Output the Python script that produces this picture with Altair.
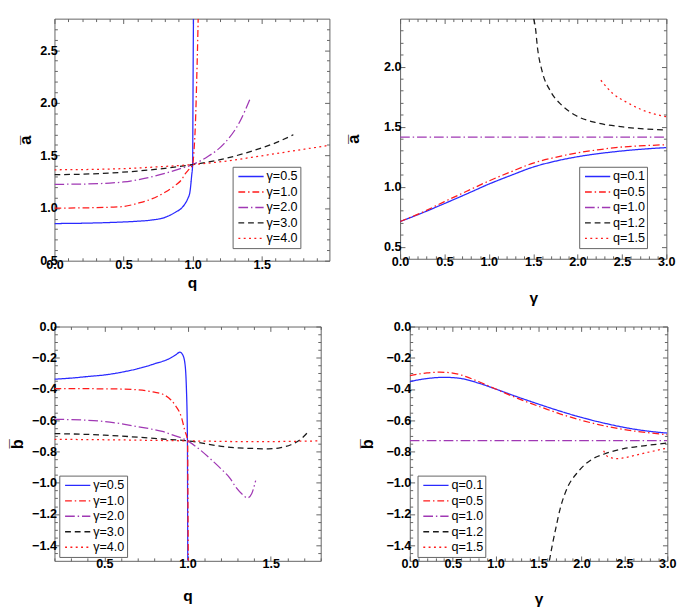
import altair as alt
import pandas as pd

# ---------------- Panel A: a-bar vs q ----------------
A_q_g05 = [0, 0.2, 0.4, 0.5, 0.6, 0.7, 0.8, 0.876, 0.92, 0.946, 0.965, 0.981, 0.993, 1.0, 1.002, 1.004, 1.006]
A_a_g05 = [0.853, 0.856, 0.863, 0.868, 0.875, 0.886, 0.912, 0.961, 1.0, 1.043, 1.09, 1.158, 1.31, 1.414, 1.9, 2.4, 2.8]
A_q_g1 = [0, 0.2, 0.4, 0.5, 0.6, 0.7, 0.8, 0.876, 0.92, 0.946, 0.975, 1.0, 1.01, 1.02, 1.025, 1.03, 1.035, 1.04]
A_a_g1 = [1.0, 1.002, 1.008, 1.015, 1.045, 1.085, 1.15, 1.218, 1.27, 1.325, 1.37, 1.414, 1.55, 1.8, 2.0, 2.25, 2.5, 2.8]
A_q_g2 = [0, 0.2, 0.4, 0.5, 0.643, 0.8, 0.9, 1.0, 1.11, 1.226, 1.343, 1.413]
A_a_g2 = [1.226, 1.228, 1.238, 1.248, 1.279, 1.33, 1.37, 1.414, 1.49, 1.61, 1.825, 2.03]
A_q_g3 = [0, 0.2, 0.4, 0.6, 0.8, 1.0, 1.2, 1.4, 1.6, 1.729]
A_a_g3 = [1.318, 1.322, 1.333, 1.352, 1.378, 1.414, 1.46, 1.53, 1.62, 1.697]
A_q_g4 = [0, 0.25, 0.5, 0.75, 1.0, 1.25, 1.5, 1.75, 1.99]
A_a_g4 = [1.364, 1.367, 1.375, 1.392, 1.414, 1.448, 1.497, 1.548, 1.597]

# ---------------- Panel B: a-bar vs gamma ----------------
B_g_q01 = [0, 0.25, 0.5, 0.75, 1.0, 1.25, 1.5, 1.75, 2.0, 2.25, 2.5, 2.75, 3.0]
B_a_q01 = [0.71, 0.782, 0.86, 0.94, 1.022, 1.095, 1.164, 1.213, 1.25, 1.277, 1.298, 1.314, 1.326]
B_g_q05 = [0, 0.25, 0.5, 0.75, 1.0, 1.25, 1.5, 1.75, 2.0, 2.25, 2.5, 2.75, 3.0]
B_a_q05 = [0.71, 0.787, 0.876, 0.962, 1.048, 1.125, 1.197, 1.245, 1.282, 1.31, 1.331, 1.342, 1.35]
B_g_q10 = [0, 3.0]
B_a_q10 = [1.4142, 1.4142]
B_g_q12 = [1.505, 1.527, 1.545, 1.6, 1.691, 1.82, 1.964, 2.218, 2.51, 2.75, 3.0]
B_a_q12 = [2.4, 2.312, 2.177, 1.963, 1.80, 1.68, 1.60, 1.532, 1.498, 1.482, 1.472]
B_g_q15 = [2.262, 2.4, 2.545, 2.727, 3.0]
B_a_q15 = [1.887, 1.774, 1.707, 1.64, 1.583]

# ---------------- Panel C: b-bar vs q ----------------
C_q_g05 = [0.2, 0.3, 0.4, 0.5, 0.6, 0.7, 0.8, 0.9, 0.93, 0.954, 0.97, 0.983, 0.993, 0.999, 1.0, 1.001]
C_b_g05 = [-0.337, -0.33, -0.32, -0.31, -0.293, -0.27, -0.239, -0.2, -0.18, -0.164, -0.18, -0.229, -0.4, -0.73, -1.1, -1.5]
C_q_g1 = [0.2, 0.4, 0.6, 0.7, 0.8, 0.848, 0.9, 0.925, 0.964, 0.983, 1.0, 1.002, 1.004]
C_b_g1 = [-0.397, -0.398, -0.4, -0.405, -0.42, -0.432, -0.47, -0.503, -0.584, -0.665, -0.732, -1.1, -1.5]
C_q_g2 = [0.2, 0.4, 0.5, 0.6, 0.7, 0.8, 0.848, 0.9, 1.0, 1.07, 1.138, 1.2, 1.254, 1.291, 1.33, 1.36, 1.385, 1.409]
C_b_g2 = [-0.594, -0.6, -0.608, -0.622, -0.641, -0.66, -0.671, -0.69, -0.732, -0.785, -0.848, -0.91, -0.97, -1.03, -1.075, -1.097, -1.07, -0.986]
C_q_g3 = [0.2, 0.5, 0.848, 1.0, 1.235, 1.4, 1.486, 1.56, 1.621, 1.679, 1.718]
C_b_g3 = [-0.685, -0.695, -0.72, -0.732, -0.771, -0.781, -0.783, -0.775, -0.757, -0.722, -0.682]
C_q_g4 = [0.2, 0.6, 1.0, 1.4, 1.8]
C_b_g4 = [-0.722, -0.726, -0.732, -0.737, -0.732]

# ---------------- Panel D: b-bar vs gamma ----------------
D_g_q01 = [0, 0.2, 0.4, 0.6, 0.8, 1.0, 1.2, 1.4, 1.6, 1.8, 2.0, 2.2, 2.5, 2.75, 3.0]
D_b_q01 = [-0.352, -0.333, -0.325, -0.333, -0.362, -0.4, -0.44, -0.478, -0.515, -0.55, -0.582, -0.61, -0.646, -0.668, -0.682]
D_g_q05 = [0, 0.2, 0.35, 0.5, 0.8, 1.0, 1.2, 1.4, 1.6, 1.8, 2.0, 2.2, 2.5, 2.75, 3.0]
D_b_q05 = [-0.315, -0.297, -0.292, -0.298, -0.352, -0.4, -0.447, -0.49, -0.53, -0.568, -0.6, -0.628, -0.66, -0.678, -0.692]
D_g_q10 = [0, 3.0]
D_b_q10 = [-0.73, -0.73]
D_g_q12 = [1.626, 1.66, 1.702, 1.75, 1.814, 1.965, 2.116, 2.266, 2.492, 2.75, 3.0]
D_b_q12 = [-1.5, -1.4, -1.289, -1.17, -1.06, -0.927, -0.852, -0.816, -0.782, -0.762, -0.746]
D_g_q15 = [2.258, 2.3, 2.36, 2.416, 2.5, 2.605, 2.793, 3.0]
D_b_q15 = [-0.795, -0.83, -0.842, -0.846, -0.84, -0.827, -0.803, -0.778]

gamma_labels = ["γ=0.5", "γ=1.0", "γ=2.0", "γ=3.0", "γ=4.0"]
q_labels = ["q=0.1", "q=0.5", "q=1.0", "q=1.2", "q=1.5"]

colors = ["#2a2aff", "#ff1a1a", "#a038b4", "#1a1a1a", "#ff1a1a"]
dashes = [[1, 0], [7, 3, 1.5, 3], [10, 3, 1.5, 3], [6, 4], [2, 3.5]]

FONT = "Liberation Sans"
FRAME = "#606060"


def make_df(xs, ys, labels):
    rows = []
    for lab, xv, yv in zip(labels, xs, ys):
        for a, b in zip(xv, yv):
            rows.append({"x": a, "y": b, "s": lab})
    return pd.DataFrame(rows)


def ticks(lo, hi, step):
    n = int(round((hi - lo) / step))
    return [round(lo + i * step, 4) for i in range(n + 1)]


def panel(df, labels, xdom, ydom, xvals, yvals, xmaj, ymaj, w, h,
          xtitle, ytitle, lx, ly, ytp, xtp, yext, ylp, xlp):
    xtest = f"abs(datum.value/{xmaj} - round(datum.value/{xmaj})) < 1e-6"
    ytest = f"abs(datum.value/{ymaj} - round(datum.value/{ymaj})) < 1e-6"
    common = dict(domain=False, grid=False, tickColor=FRAME, tickWidth=1,
                  labelFont=FONT, labelFontSize=13, labelFontWeight="bold",
                  labelColor="black", format=".1f", labelFlush=False,
                  labelOverlap=False, titleFont=FONT, titleColor="black",
                  titleFontWeight="bold")
    xax = alt.Axis(orient="bottom", values=xvals,
                   tickSize={"expr": f"({xtest}) ? -5 : -3"},
                   labelExpr=f"({xtest}) ? datum.label : ''",
                   labelPadding=xlp, title=xtitle, titleFontSize=16,
                   titlePadding=xtp, **common)
    yax = alt.Axis(orient="left", values=yvals,
                   tickSize={"expr": f"({ytest}) ? -5 : -3"},
                   labelExpr=f"({ytest}) ? datum.label : ''",
                   labelPadding=ylp, title=ytitle, titleFontSize=17,
                   titlePadding=ytp, titleAngle=270,
                   minExtent=yext, maxExtent=yext, **common)
    xax2 = alt.Axis(orient="top", values=xvals, labels=False, title=None,
                    tickSize={"expr": f"({xtest}) ? -5 : -3"},
                    domain=False, grid=False, tickColor=FRAME)
    yax2 = alt.Axis(orient="right", values=yvals, labels=False, title=None,
                    tickSize={"expr": f"({ytest}) ? -5 : -3"},
                    domain=False, grid=False, tickColor=FRAME)
    xs = alt.Scale(domain=xdom, nice=False, zero=False)
    ys = alt.Scale(domain=ydom, nice=False, zero=False)
    lines = alt.Chart(df).mark_line(clip=True, strokeWidth=1.3,
                                    interpolate="monotone").encode(
        x=alt.X("x:Q", scale=xs, axis=xax),
        y=alt.Y("y:Q", scale=ys, axis=yax),
        color=alt.Color("s:N", scale=alt.Scale(domain=labels, range=colors),
                        legend=alt.Legend(
                            orient="none", legendX=lx, legendY=ly, title=None,
                            symbolType="stroke", symbolSize=680,
                            symbolStrokeWidth=1.4, symbolOffset=3,
                            labelFont=FONT, labelFontSize=13,
                            labelColor="black",
                            labelExpr="datum.label + '\u00a0\u00a0\u00a0\u00a0\u00a0'",
                            strokeColor=FRAME, fillColor="white",
                            padding=2, clipHeight=16, rowPadding=0,
                            labelOffset=2)),
        strokeDash=alt.StrokeDash("s:N", scale=alt.Scale(domain=labels, range=dashes),
                                  legend=None),
        detail="s:N",
    )
    frame = alt.Chart(df).mark_line(opacity=0).encode(
        x=alt.X("x:Q", scale=xs, axis=xax2),
        y=alt.Y("y:Q", scale=ys, axis=yax2),
    )
    return alt.layer(lines, frame).resolve_axis(x="independent", y="independent").properties(
        width=w, height=h)


dfA = make_df([A_q_g05, A_q_g1, A_q_g2, A_q_g3, A_q_g4],
              [A_a_g05, A_a_g1, A_a_g2, A_a_g3, A_a_g4], gamma_labels)
dfB = make_df([B_g_q01, B_g_q05, B_g_q10, B_g_q12, B_g_q15],
              [B_a_q01, B_a_q05, B_a_q10, B_a_q12, B_a_q15], q_labels)
dfC = make_df([C_q_g05, C_q_g1, C_q_g2, C_q_g3, C_q_g4],
              [C_b_g05, C_b_g1, C_b_g2, C_b_g3, C_b_g4], gamma_labels)
dfD = make_df([D_g_q01, D_g_q05, D_g_q10, D_g_q12, D_g_q15],
              [D_b_q01, D_b_q05, D_b_q10, D_b_q12, D_b_q15], q_labels)

pA = panel(dfA, gamma_labels, [0, 1.99], [0.5, 2.8], ticks(0, 1.9, 0.1), ticks(0.5, 2.7, 0.1),
           0.5, 0.5, 284, 250, "q", "a\u0305", 184, 153, 0, 1, 21, 2, 3.5)
pB = panel(dfB, q_labels, [0, 3], [0.4, 2.4], ticks(0, 3, 0.1), ticks(0.5, 2.3, 0.1),
           0.5, 0.5, 275, 248, "γ", "a\u0305", 185, 153, 14, 20, 25, 4, 2)
pC = panel(dfC, gamma_labels, [0.2, 1.8], [-1.5, 0], ticks(0.2, 1.8, 0.1), ticks(-1.45, 0, 0.05),
           0.5, 0.2, 275, 242, "q", "b\u0305", 5, 154, 0, 16.5, 29, 3, 2)
pD = panel(dfD, q_labels, [0, 3], [-1.5, 0], ticks(0, 3, 0.1), ticks(-1.45, 0, 0.05),
           0.5, 0.2, 266, 242, "γ", "b\u0305", 8, 154, 0, 19, 34, 4, 2)

row1 = alt.hconcat(pA, pB, spacing=14).resolve_scale(
    color="independent", strokeDash="independent")
row2 = alt.hconcat(pC, pD, spacing=38).resolve_scale(
    color="independent", strokeDash="independent")
chart = alt.vconcat(row1, row2, spacing=14).resolve_scale(
    color="independent", strokeDash="independent"
).properties(padding=0).configure_view(stroke=FRAME, strokeWidth=1)

chart.save("out.html", embed_options={"renderer": "svg", "actions": False})
